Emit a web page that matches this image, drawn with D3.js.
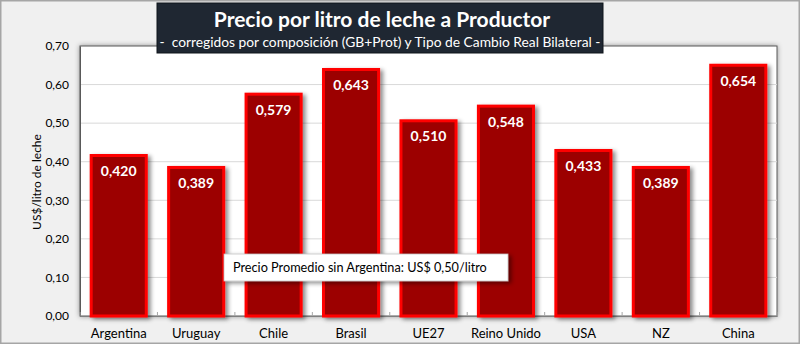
<!DOCTYPE html>
<html>
<head>
<meta charset="utf-8">
<script src="https://cdn.jsdelivr.net/npm/d3@7"></script>
<style>
  html, body { margin: 0; padding: 0; background: #f0f0f0; }
  svg { display: block; font-family: Lato, "Open Sans", sans-serif; }
</style>
</head>
<body>
<svg id="chart" width="800" height="344"></svg>
<script>
// Producer milk price by country (US$/litre)
const countries = ["Argentina", "Uruguay", "Chile", "Brasil", "UE27", "Reino Unido", "USA", "NZ", "China"];
const prices = [0.420, 0.389, 0.579, 0.643, 0.510, 0.548, 0.433, 0.389, 0.654];
const yTicks = [0, 0.1, 0.2, 0.3, 0.4, 0.5, 0.6, 0.7];
const titleText = "Precio por litro de leche a Productor";
const subtitleText = "-  corregidos por composición (GB+Prot) y Tipo de Cambio Real Bilateral -";
const yAxisTitle = "US$/litro de leche";
const noteText = "Precio Promedio sin Argentina: US$ 0,50/litro";

const W = 800, H = 344;
const plot = { left: 80, right: 777, top: 46, bottom: 316 };
const svg = d3.select("#chart");
const fmt = v => d3.format(".2f")(v).replace(".", ",");
const fmt3 = v => d3.format(".3f")(v).replace(".", ",");

const defs = svg.append("defs");
const sh = defs.append("filter").attr("id", "shadow").attr("x", "-20%").attr("y", "-20%").attr("width", "150%").attr("height", "150%");
sh.append("feDropShadow").attr("dx", 3).attr("dy", 2).attr("stdDeviation", 2).attr("flood-color", "#000").attr("flood-opacity", 0.45);
const sh2 = defs.append("filter").attr("id", "shadow2").attr("x", "-5%").attr("y", "-5%").attr("width", "110%").attr("height", "110%");
sh2.append("feDropShadow").attr("dx", 0).attr("dy", 0).attr("stdDeviation", 2.5).attr("flood-color", "#000").attr("flood-opacity", 0.4);

// outer frame
svg.append("rect").attr("x", 0.75).attr("y", 0.75).attr("width", W - 1.5).attr("height", H - 1.5)
  .attr("fill", "#f0f0f0").attr("stroke", "#a6a6a6").attr("stroke-width", 1.5);

// plot area
svg.append("rect").attr("x", plot.left).attr("y", plot.top)
  .attr("width", plot.right - plot.left).attr("height", plot.bottom - plot.top)
  .attr("fill", "#ffffff").attr("stroke", "#595959").attr("stroke-width", 1)
  .attr("filter", "url(#shadow2)");

const x = d3.scaleBand().domain(countries).range([plot.left, plot.right]).paddingInner(0.25).paddingOuter(0.125);
const y = d3.scaleLinear().domain([0, 0.7]).range([plot.bottom, plot.top]);

// gridlines
svg.append("g").selectAll("line").data(yTicks.slice(1, -1)).join("line")
  .attr("x1", plot.left).attr("x2", plot.right)
  .attr("y1", d => y(d)).attr("y2", d => y(d))
  .attr("stroke", "#d9d9d9").attr("stroke-width", 1);

// y axis
const yAxis = svg.append("g").attr("transform", `translate(${plot.left},0)`)
  .call(d3.axisLeft(y).tickValues(yTicks).tickFormat(fmt).tickSize(0).tickPadding(11));
yAxis.select(".domain").attr("stroke", "#595959");
yAxis.selectAll("text").attr("font-size", 12).attr("fill", "#000").attr("font-family", "Lato, sans-serif");

// x axis
const band = x.step();
const xAxis = svg.append("g").attr("transform", `translate(0,${plot.bottom})`)
  .call(d3.axisBottom(x).tickSize(0).tickPadding(13));
xAxis.select(".domain").attr("stroke", "#7f7f7f");
xAxis.selectAll("text").attr("font-size", 13).attr("fill", "#000").attr("font-family", "Lato, sans-serif");
svg.append("g").selectAll("line").data(d3.range(countries.length + 1)).join("line")
  .attr("x1", i => plot.left + i * band).attr("x2", i => plot.left + i * band)
  .attr("y1", plot.bottom).attr("y2", plot.bottom - 4)
  .attr("stroke", "#a6a6a6");

// y axis title
svg.append("text").attr("transform", `translate(41,182) rotate(-90)`)
  .attr("text-anchor", "middle").attr("font-size", 12).attr("fill", "#000").text(yAxisTitle);

// bars
const bars = svg.append("g");
bars.selectAll("rect").data(prices).join("rect")
  .attr("x", (d, i) => x(countries[i]) + 1.5)
  .attr("y", d => y(d) + 1.5)
  .attr("width", x.bandwidth() - 3)
  .attr("height", d => plot.bottom - y(d) - 1.5)
  .attr("fill", "#9c0000").attr("stroke", "#ff0000").attr("stroke-width", 3)
  .attr("filter", "url(#shadow)");

bars.selectAll("text").data(prices).join("text")
  .attr("x", (d, i) => x(countries[i]) + x.bandwidth() / 2)
  .attr("y", d => y(d) + 22)
  .attr("text-anchor", "middle").attr("font-size", 14).attr("font-weight", "bold")
  .attr("fill", "#ffffff").text(fmt3);

// title box
svg.append("rect").attr("x", 157).attr("y", 3).attr("width", 446).attr("height", 50)
  .attr("fill", "#1f2732").attr("stroke", "#0f141a");
svg.append("text").attr("x", 382).attr("y", 27).attr("text-anchor", "middle")
  .attr("font-size", 21).attr("font-weight", "bold").attr("fill", "#fff").text(titleText);
svg.append("text").attr("x", 380).attr("y", 47).attr("text-anchor", "middle")
  .attr("font-size", 13.8).attr("fill", "#fff").attr("xml:space", "preserve").text(subtitleText);

// average note
svg.append("rect").attr("x", 224).attr("y", 254).attr("width", 284).attr("height", 27)
  .attr("fill", "#fff").attr("stroke", "#bfbfbf").attr("stroke-width", 0.75).attr("filter", "url(#shadow)");
svg.append("text").attr("x", 233).attr("y", 272).attr("font-size", 12.7).attr("fill", "#000").text(noteText);
</script>
</body>
</html>
